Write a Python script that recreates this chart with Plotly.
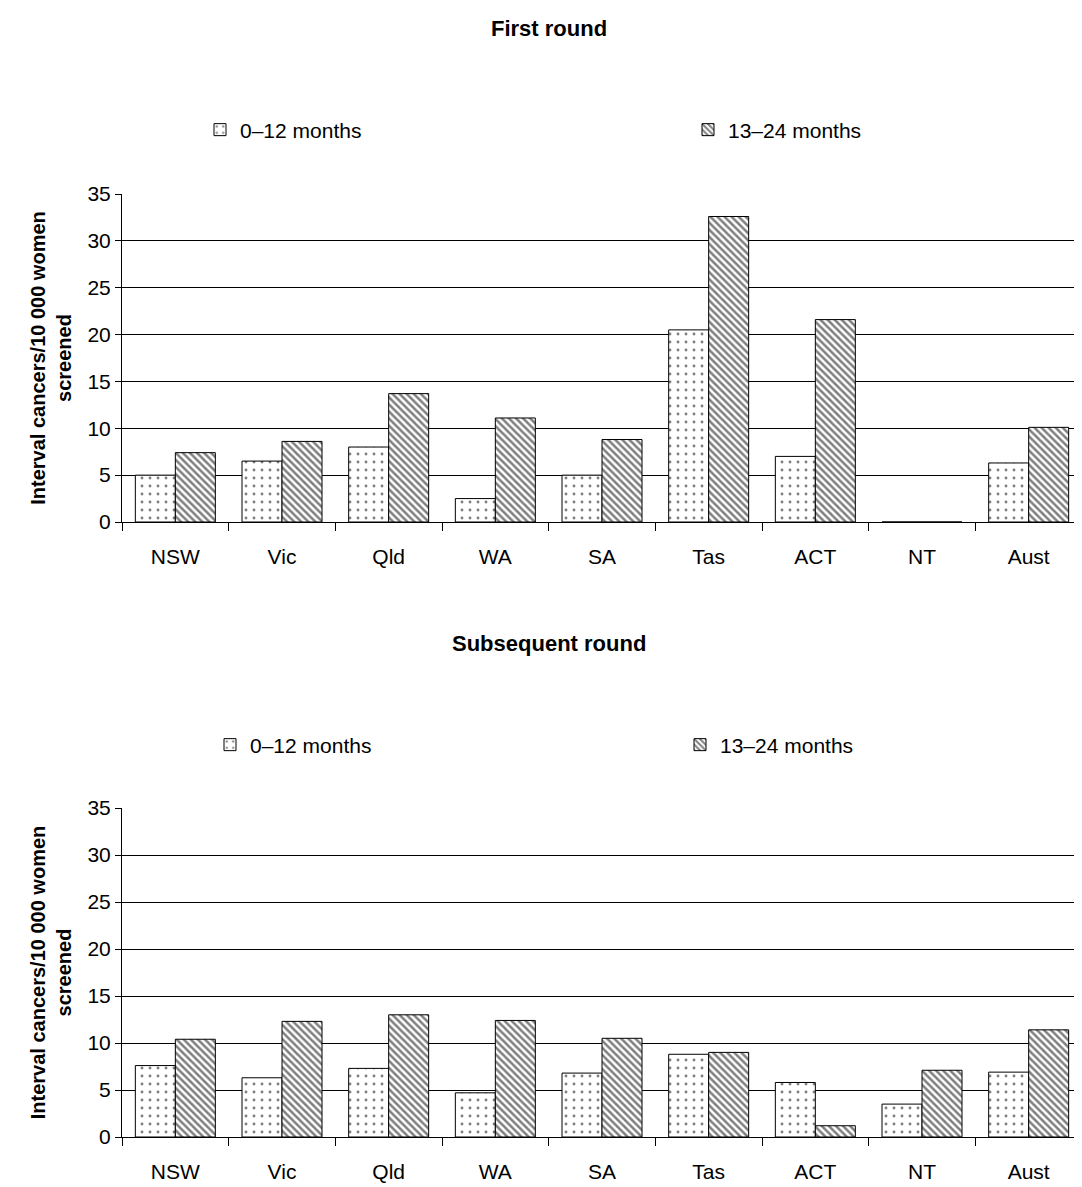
import plotly.graph_objects as go
from plotly.subplots import make_subplots

states = ["NSW", "Vic", "Qld", "WA", "SA", "Tas", "ACT", "NT", "Aust"]
first_0_12 = [5.0, 6.5, 8.0, 2.5, 5.0, 20.5, 7.0, 0, 6.3]
first_13_24 = [7.4, 8.6, 13.7, 11.1, 8.8, 32.6, 21.6, 0, 10.1]
subs_0_12 = [7.6, 6.3, 7.3, 4.7, 6.8, 8.8, 5.8, 3.5, 6.9]
subs_13_24 = [10.4, 12.3, 13.0, 12.4, 10.5, 9.0, 1.2, 7.1, 11.4]

W, H = 1082, 1187
OFF = 8  # page body margin

def px(x):
    return (x - OFF) / W

def py(y):
    return 1 - (y - OFF) / H

fig = make_subplots(rows=2, cols=1)

def bars(y, name, shape, legend, row):
    dots = shape == "."
    fig.add_trace(go.Bar(
        x=states, y=y, name=name, legend=legend,
        marker=dict(color="white", line=dict(color="black", width=1),
                    pattern=dict(shape=shape, fgcolor="black", bgcolor="white",
                                 size=8 if dots else 5, solidity=0.1 if dots else 0.5)),
    ), row=row, col=1)

bars(first_0_12, "0\u201312 months", ".", "legend", 1)
bars(first_13_24, "13\u201324 months", "\\", "legend2", 1)
bars(subs_0_12, "0\u201312 months", ".", "legend3", 2)
bars(subs_13_24, "13\u201324 months", "\\", "legend4", 2)

font = dict(family="Liberation Sans, Arial", size=21, color="black")
ls = dict(xanchor="left", yanchor="middle", font=font, bgcolor="rgba(0,0,0,0)", itemwidth=30)

fig.update_layout(
    width=W, height=H, margin=dict(l=0, r=0, t=0, b=0, autoexpand=False),
    plot_bgcolor="white", paper_bgcolor="white", font=font, showlegend=True,
    barmode="group", bargap=0.25, bargroupgap=0,
    legend=dict(x=px(200), y=py(130), **ls),
    legend2=dict(x=px(688), y=py(130), **ls),
    legend3=dict(x=px(210), y=py(745), **ls),
    legend4=dict(x=px(680), y=py(745), **ls),
    annotations=[
        dict(text="<b>First round</b>", x=px(549), y=py(28), xref="paper", yref="paper",
             yanchor="middle", showarrow=False, font=dict(size=22)),
        dict(text="<b>Subsequent round</b>", x=px(549), y=py(643), xref="paper", yref="paper",
             yanchor="middle", showarrow=False, font=dict(size=22)),
    ],
)
fig.update_xaxes(domain=[px(122), px(1082)], showline=True, linecolor="black", automargin=False,
                 ticks="outside", tickson="boundaries", ticklen=8, tickcolor="black",
                 ticklabelstandoff=16)
fig.update_yaxes(range=[0, 35], dtick=5, showgrid=True, gridcolor="black", gridwidth=1,
                 showline=True, linecolor="black", ticks="outside", ticklen=6, tickcolor="black",
                 automargin=False,
                 title=dict(text="<b>Interval cancers/10 000 women<br>screened</b>", font=dict(size=20), standoff=10))
fig.update_yaxes(domain=[py(522), py(194)], row=1, col=1)
fig.update_yaxes(domain=[py(1137), py(808)], row=2, col=1)

fig.write_html("out.html")
